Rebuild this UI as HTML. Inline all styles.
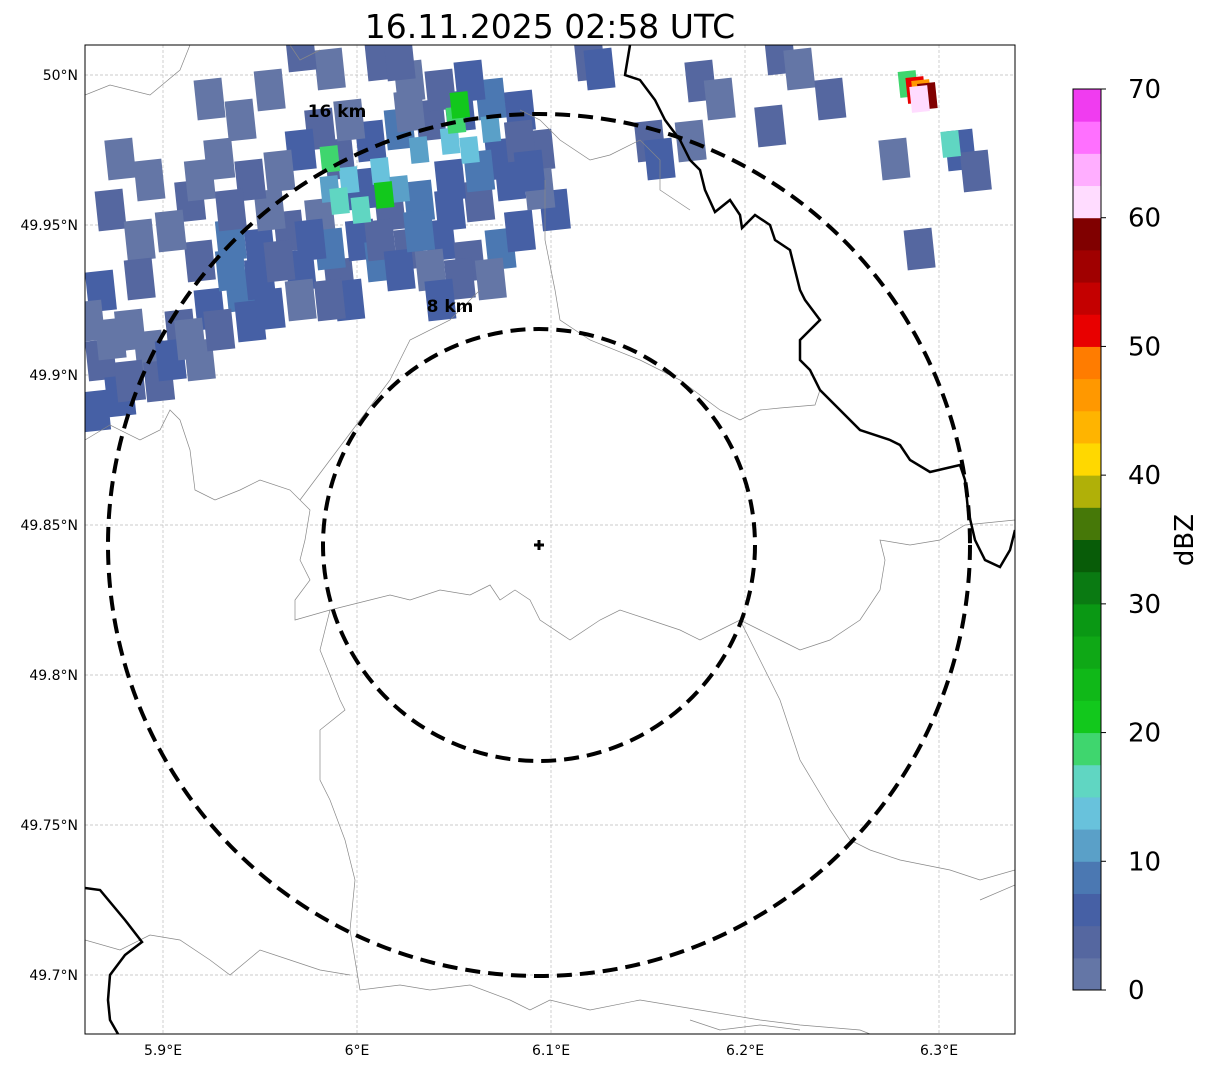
<!DOCTYPE html>
<html><head><meta charset="utf-8">
<style>
body{margin:0;background:#fff;font-family:"Liberation Sans","DejaVu Sans",sans-serif;}
svg text{font-family:"DejaVu Sans","Liberation Sans",sans-serif;}
</style></head>
<body>
<svg id="chart" width="1207" height="1069" xmlns="http://www.w3.org/2000/svg">
<text x="550" y="38" font-size="33" text-anchor="middle">16.11.2025 02:58 UTC</text>
<g id="map"></g>
<g id="cbar"></g>
</svg>
<script>
const lonTicks=[5.9,6.0,6.1,6.2,6.3];
const lonLabels=["5.9°E","6°E","6.1°E","6.2°E","6.3°E"];
const latTicks=[50.0,49.95,49.9,49.85,49.8,49.75,49.7];
const latLabels=["50°N","49.95°N","49.9°N","49.85°N","49.8°N","49.75°N","49.7°N"];
const cellLon=[5.868,5.878,5.893,5.909,5.924,5.940,5.919,5.898,5.865,5.883,5.935,5.950,5.965,5.981,5.971,5.991,5.996,5.986,5.955,5.945,5.929,5.914,5.893,5.878,5.873,5.888,5.919,6.002,6.012,6.027,6.043,6.058,6.074,6.084,6.063,6.048,6.032,6.017,6.002,5.991,6.007,6.022,6.038,6.053,6.069,6.084,6.094,6.074,6.027,6.012,5.986,5.971,5.955,5.940,5.924,6.102,6.120,6.125,6.218,6.228,6.244,6.151,6.156,6.172,6.311,6.319,6.290,6.277,6.177,6.187,6.213,
5.873,5.883,5.904,5.914,5.929,5.945,5.935,5.950,5.960,5.976,5.971,5.986,5.955,6.012,6.022,6.038,6.053,6.069,6.043,6.032,6.048,6.063,6.079,6.084,6.094,6.089,6.027,6.043,6.058,6.022,5.996,5.981,5.971,5.960,5.919,5.935,5.904,5.868,5.862,5.888,
5.996,6.012,6.032,6.048,6.058,6.069,6.022,5.986,5.991,6.002,6.306,6.051,5.986,6.014,6.053,6.284,6.288,6.291,6.294,6.290];
const cellLat=[49.905,49.893,49.908,49.915,49.922,49.928,49.905,49.898,49.888,49.915,49.945,49.942,49.948,49.952,49.935,49.932,49.925,49.942,49.955,49.965,49.972,49.958,49.965,49.972,49.955,49.945,49.938,49.945,49.938,49.942,49.945,49.938,49.942,49.948,49.958,49.955,49.958,49.955,49.962,49.972,49.978,49.982,49.985,49.988,49.992,49.988,49.975,49.972,49.998,50.005,50.002,50.008,49.995,49.985,49.992,49.955,50.005,50.002,50.007,50.002,49.992,49.978,49.972,49.978,49.975,49.968,49.942,49.972,49.998,49.992,49.983,
49.912,49.898,49.905,49.912,49.915,49.918,49.935,49.932,49.938,49.945,49.925,49.925,49.922,49.945,49.935,49.935,49.932,49.932,49.925,49.948,49.965,49.968,49.965,49.978,49.962,49.968,49.988,49.995,49.998,50.005,49.985,49.982,49.975,49.968,49.965,49.955,49.948,49.928,49.918,49.932,
49.965,49.968,49.975,49.978,49.975,49.982,49.962,49.962,49.958,49.955,49.977,49.985,49.972,49.960,49.990,49.997,49.995,49.994,49.993,49.992];
const cellDbz=[4,6,2,4,6,8,2,4,6,2,8,6,4,2,6,4,6,8,2,4,2,4,2,2,4,2,4,6,8,4,6,4,8,6,4,6,8,4,6,4,6,8,4,6,8,6,4,6,2,4,2,4,2,2,2,6,4,6,4,2,4,4,6,2,6,4,4,2,4,2,4,
2,4,6,2,4,6,8,6,4,6,2,4,6,4,6,2,4,2,6,8,6,8,6,4,2,6,2,4,6,4,2,4,6,2,2,4,2,6,2,4,
13,13,12,13,13,12,11,12,16,16,16,18,18,21,21,18,52,45,58,62];
const cbLevels=[0,2.5,5,7.5,10,12.5,15,17.5,20,22.5,25,27.5,30,32.5,35,37.5,40,42.5,45,47.5,50,52.5,55,57.5,60,62.5,65,67.5];
const cbColors=["#6476a6","#5567a0","#4660a5","#4b78b2","#5aa0c8","#68c2dc","#60d6c2","#3fd66e","#12c81c","#10b818","#0fa816","#0a9814","#0a7a12","#085c08","#467808","#b0b008","#ffd800","#ffb400","#ff9800","#ff7c00","#e80000","#c40000","#a00000","#800000","#ffdcff","#ffaeff","#ff70ff","#f03cf0"];
const cbTicks=[0,10,20,30,40,50,60,70];

const NS="http://www.w3.org/2000/svg";
const X0=85,X1=1015,Y0=45,Y1=1034;
const xS=lon=>163+(lon-5.9)*1940;
const yS=lat=>75+(50-lat)*3000;
function mk(t,a,p){const e=document.createElementNS(NS,t);for(const k in a)e.setAttribute(k,a[k]);p.appendChild(e);return e;}
function colorFor(v){let i=0;for(let k=0;k<cbLevels.length;k++)if(v>=cbLevels[k])i=k;return cbColors[i];}
const map=document.getElementById('map');
const defs=mk('defs',{},map);
const cp=mk('clipPath',{id:'clip'},defs);mk('rect',{x:X0,y:Y0,width:X1-X0,height:Y1-Y0},cp);
const g=mk('g',{'clip-path':'url(#clip)'},map);
lonTicks.forEach(v=>{const l=mk('line',{x1:xS(v),x2:xS(v),y1:Y0,y2:Y1,stroke:'#bbb','stroke-width':0.7,'stroke-dasharray':'3,2'},g);

});
latTicks.forEach(v=>{const l=mk('line',{x1:X0,x2:X1,y1:yS(v),y2:yS(v),stroke:'#bbb','stroke-width':0.7,'stroke-dasharray':'3,2'},g);

});
const cg=mk('g',{},g);
cellLon.forEach((lo,i)=>{const cx=xS(lo),cy=yS(cellLat[i]);const big=cellDbz[i]<11;const w=big?28:18,h=big?40:26;
const r=mk('rect',{x:cx-w/2,y:cy-h/2,width:w,height:h,fill:colorFor(cellDbz[i]),transform:`rotate(-6 ${cx} ${cy})`},cg);

});
const thin=["M85,95 L110,85 L150,95 L180,70 L190,45","M290,45 L300,60 L320,50","M520,110 L540,120 L560,140 L590,160 L610,155 L640,140 L660,160 L660,190 L690,210","M545,180 L545,240 L555,290 L560,320 L590,340 L640,360 L680,380 L720,410 L740,420 L760,410 L780,408 L815,405 L820,390",
"M85,440 L110,425 L140,440 L160,430 L170,410 L180,420 L190,450 L195,490 L215,500 L240,490 L260,480 L290,490 L310,510 L305,540 L300,560 L310,580 L295,600 L295,620 L330,610 L370,600 L390,595 L410,600 L440,590 L470,595 L490,585 L500,600 L515,590 L530,600 L540,620 L570,640 L600,620 L620,610 L650,620 L680,630 L700,640 L720,630 L740,620 L760,630 L780,640 L800,650 L830,640 L860,620 L880,590 L885,560 L880,540 L910,545 L940,540 L965,525 L1015,520",
"M300,500 L330,460 L360,420 L390,380 L410,340 L450,320 L470,300 L480,290",
"M330,610 L320,650 L340,700 L345,710 L320,730 L320,780 L330,800 L345,840 L355,880 L350,930 L360,990 L400,985 L430,990 L470,985 L510,1000 L530,1010 L550,1000 L590,1010 L640,1000 L700,1010 L760,1020 L800,1025 L860,1030 L870,1034",
"M740,620 L780,700 L800,760 L830,810 L850,840 L870,850 L900,860 L950,870 L980,880 L1015,870",
"M85,940 L120,950 L150,935 L180,940 L210,960 L230,975 L260,950 L290,960 L320,970 L350,975",
"M690,1020 L720,1030 L760,1025 L800,1030","M980,900 L1015,885"];
thin.forEach(d=>{const p=mk('path',{d,fill:'none',stroke:'#888','stroke-width':0.7},g);

});
const thick=["M630,45 L625,75 L640,80 L655,100 L665,120 L680,140 L690,160 L700,170 L705,190 L715,212 L730,200 L740,215 L742,228 L755,215 L770,225 L775,240 L790,250 L795,270 L800,290 L805,300 L820,320 L800,340 L800,360 L810,370 L820,390 L840,410 L860,430 L890,440 L900,445 L910,460 L930,472 L960,465 L965,480 L968,510 L975,540 L985,560 L1000,567 L1010,550 L1015,530",
"M85,888 L100,890 L125,920 L142,942 L125,955 L110,975 L108,1000 L110,1020 L118,1034"];
thick.forEach(d=>{const p=mk('path',{d,fill:'none',stroke:'#000','stroke-width':2.5},g);

});
[[216,'inner-range-ring'],[431,'outer-range-ring']].forEach(([r,n])=>{const c=mk('circle',{cx:539,cy:545,r,fill:'none',stroke:'#000','stroke-width':4,'stroke-dasharray':'15,8'},g);

});
const t1=mk('text',{x:337,y:117,'font-size':17,'font-weight':'bold','text-anchor':'middle'},g);t1.textContent='16 km';


const t2=mk('text',{x:450,y:312,'font-size':17,'font-weight':'bold','text-anchor':'middle'},g);t2.textContent='8 km';


const cr=mk('path',{d:'M534,545 H544 M539,540 V550',stroke:'#000','stroke-width':3},g);


mk('rect',{x:X0,y:Y0,width:X1-X0,height:Y1-Y0,fill:'none',stroke:'#000','stroke-width':1},map);
lonTicks.forEach((v,i)=>{const t=mk('text',{x:xS(v),y:1055,'font-size':14,'text-anchor':'middle'},map);t.textContent=lonLabels[i];

});
latTicks.forEach((v,i)=>{const t=mk('text',{x:78,y:yS(v)+5,'font-size':14,'text-anchor':'end'},map);t.textContent=latLabels[i];

});
const cb=document.getElementById('cbar');
const CB0=990,CB1=89,cy=v=>CB0-(v/70)*(CB0-CB1);
cbLevels.forEach((v,i)=>{const top=i+1<cbLevels.length?cbLevels[i+1]:70;const r=mk('rect',{x:1073,y:cy(top),width:28,height:cy(v)-cy(top)+0.5,fill:cbColors[i]},cb);

});
mk('rect',{x:1073,y:CB1,width:28,height:CB0-CB1,fill:'none',stroke:'#000','stroke-width':1},cb);
cbTicks.forEach(v=>{mk('line',{x1:1101,x2:1106,y1:cy(v),y2:cy(v),stroke:'#000'},cb);const t=mk('text',{x:1128,y:cy(v)+9,'font-size':26},cb);t.textContent=v;

});
const lab=mk('text',{x:1193,y:540,'font-size':26,'text-anchor':'middle',transform:'rotate(-90 1193 540)'},cb);lab.textContent='dBZ';


</script>
</body></html>
